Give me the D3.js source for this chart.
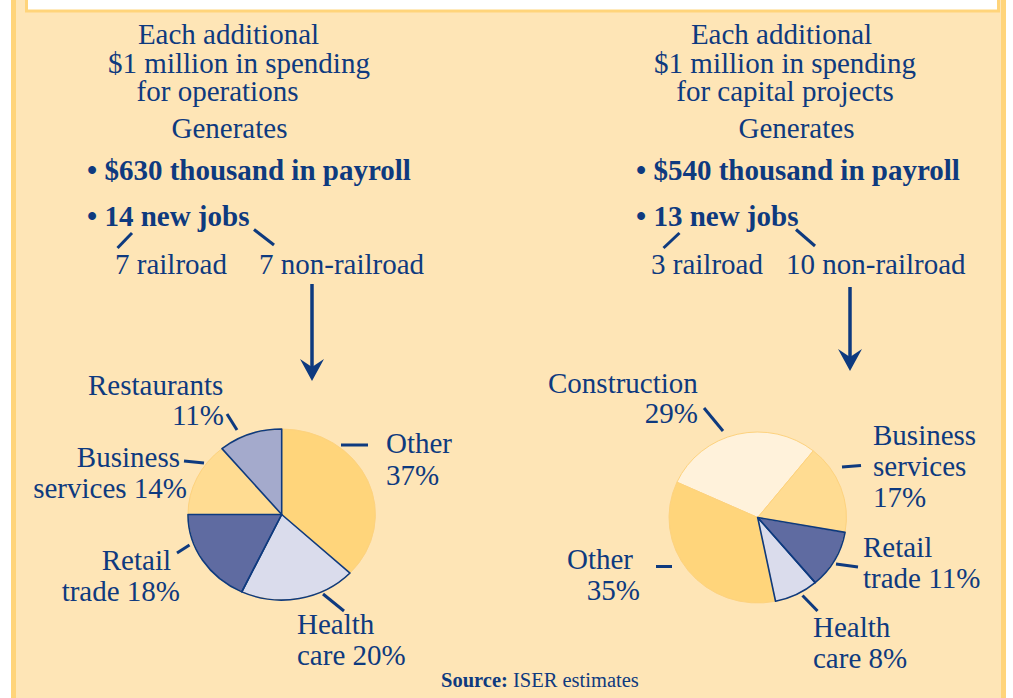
<!DOCTYPE html>
<html><head><meta charset="utf-8">
<script src="https://cdn.jsdelivr.net/npm/d3@7"></script>
<style>body{margin:0;background:#fff}svg{display:block}</style>
</head><body><svg id="c" width="1013" height="698"></svg>
<script>
// ---- data ----
const leftCategories = ["Other", "Health care", "Retail trade", "Business services", "Restaurants"];
const leftValues = [37, 20, 18, 14, 11];
const rightCategories = ["Construction", "Business services", "Retail trade", "Health care", "Other"];
const rightValues = [29, 17, 11, 8, 35];
const leftHeader = ["Each additional", "$1 million in spending", "for operations", "Generates"];
const rightHeader = ["Each additional", "$1 million in spending", "for capital projects", "Generates"];
const leftBullets = ["• $630 thousand in payroll", "• 14 new jobs"];
const rightBullets = ["• $540 thousand in payroll", "• 13 new jobs"];
const leftJobs = ["7 railroad", "7 non-railroad"];
const rightJobs = ["3 railroad", "10 non-railroad"];
const sourceLabel = "Source:";
const sourceText = " ISER estimates";

// ---- style ----
const NAVY = "#0e3a7f";
const BG = "#fee5b6";
const FONT = "'Liberation Serif', 'Times New Roman', serif";
const sliceColors = {
  "Other": "#ffd57b",
  "Health care": "#dadcec",
  "Retail trade": "#5f6ba1",
  "Business services": "#ffdc92",
  "Restaurants": "#a4aacc",
  "Construction": "#fff2db"
};
const darkSlices = new Set(["Health care", "Retail trade", "Restaurants"]);

const svg = d3.select("#c");

// panel
svg.append("rect").attr("x", 13.5).attr("y", -20).attr("width", 990).attr("height", 740)
  .attr("fill", BG).attr("stroke", "#ffd47a").attr("stroke-width", 5);
svg.append("rect").attr("x", 26.5).attr("y", -20).attr("width", 972).attr("height", 31)
  .attr("fill", "#fff").attr("stroke", "#ffd47a").attr("stroke-width", 3);

function txt(x, y, s, opts = {}) {
  const t = svg.append("text").attr("x", x).attr("y", y)
    .attr("font-family", FONT).attr("font-size", opts.size || 29)
    .attr("font-weight", opts.bold ? "bold" : "normal")
    .attr("fill", NAVY).attr("text-anchor", opts.anchor || "start").text(s);
  return t;
}
function line(x1, y1, x2, y2, w = 3) {
  svg.append("line").attr("x1", x1).attr("y1", y1).attr("x2", x2).attr("y2", y2)
    .attr("stroke", NAVY).attr("stroke-width", w);
}
function arrow(x, y1, y2) {
  line(x, y1, x, y2 - 10, 3.5);
  svg.append("path").attr("fill", NAVY)
    .attr("d", d3.line()([[x, y2], [x - 12, y2 - 22], [x, y2 - 14], [x + 12, y2 - 22]]) + "Z");
}

// header columns
const hdrY = [44, 73, 101, 138];
const leftHdrX = [228.5, 239, 217.5, 229.5];
const rightHdrX = [781.5, 785, 785, 796.5];
leftHeader.forEach((s, i) => txt(leftHdrX[i], hdrY[i], s, {anchor: "middle"}));
rightHeader.forEach((s, i) => txt(rightHdrX[i], hdrY[i], s, {anchor: "middle"}));
const bulY = [180, 226];
leftBullets.forEach((s, i) => txt(87, bulY[i], s, {bold: true}));
rightBullets.forEach((s, i) => txt(636, bulY[i], s, {bold: true}));
txt(115, 274, leftJobs[0]); txt(259, 274, leftJobs[1]);
txt(651, 274, rightJobs[0]); txt(786, 274, rightJobs[1]);
line(132, 233, 117.5, 248); line(254, 229.5, 274, 245);
line(679.5, 233, 663.5, 248); line(796, 229.5, 815, 246);
arrow(312, 284, 381);
arrow(850, 287, 371);

// pies
function drawPie(cx, cy, rx, ry, cats, vals, startDeg) {
  const a0 = startDeg * Math.PI / 180;
  const pie = d3.pie().sort(null).value(d => d.v).startAngle(a0).endAngle(a0 + 2 * Math.PI);
  const arc = d3.arc().innerRadius(0).outerRadius(ry);
  const g = svg.append("g").attr("transform", `translate(${cx},${cy}) scale(${rx / ry},1)`);
  const arcs = pie(cats.map((c, i) => ({c, v: vals[i]})));
  g.selectAll("path.f").data(arcs).join("path").attr("class", "f")
    .attr("d", arc).attr("fill", d => sliceColors[d.data.c])
    .attr("stroke", "#fdd27e").attr("stroke-width", 1).attr("vector-effect", "non-scaling-stroke");
  g.selectAll("path.o").data(arcs.filter(d => darkSlices.has(d.data.c))).join("path").attr("class", "o")
    .attr("d", arc).attr("fill", "none")
    .attr("stroke", NAVY).attr("stroke-width", 1.6).attr("stroke-linejoin", "round")
    .attr("vector-effect", "non-scaling-stroke");
}
drawPie(281.7, 514.5, 93.7, 85.5, leftCategories, leftValues, 0);
drawPie(757.7, 517.5, 88.7, 85.5, rightCategories, rightValues, -65.6);

// pie labels (left)
txt(88, 395, "Restaurants"); txt(224, 425, leftValues[4] + "%", {anchor: "end"});
line(227, 414, 237, 430);
txt(180, 467, "Business", {anchor: "end"}); txt(187, 498, "services " + leftValues[3] + "%", {anchor: "end"});
line(184, 461, 204, 463);
txt(171, 570, "Retail", {anchor: "end"}); txt(180, 601, "trade " + leftValues[2] + "%", {anchor: "end"});
line(177, 553, 189.5, 545);
txt(386, 453, "Other"); txt(386, 485, leftValues[0] + "%");
line(341, 445, 368, 445);
txt(297, 634, "Health"); txt(297, 665, "care " + leftValues[1] + "%");
line(323, 594, 344, 611);

// pie labels (right)
txt(548, 393, "Construction"); txt(698, 423, rightValues[0] + "%", {anchor: "end"});
line(704, 408, 723, 431);
txt(873, 445, "Business"); txt(873, 476, "services"); txt(873, 507, rightValues[1] + "%");
line(842, 467, 861, 465.5);
txt(863, 557, "Retail"); txt(863, 588, "trade " + rightValues[2] + "%");
line(836, 564, 858, 567);
txt(813, 637, "Health"); txt(813, 668, "care " + rightValues[3] + "%");
line(802.5, 595.5, 817.5, 611);
txt(633, 569, "Other", {anchor: "end"}); txt(640, 600, rightValues[4] + "%", {anchor: "end"});
line(656, 566.5, 672, 566.5);

// source
const st = svg.append("text").attr("x", 441).attr("y", 687).attr("font-family", FONT)
  .attr("font-size", 20.5).attr("fill", NAVY);
st.append("tspan").attr("font-weight", "bold").text(sourceLabel);
st.append("tspan").text(sourceText);
</script>
</body></html>
